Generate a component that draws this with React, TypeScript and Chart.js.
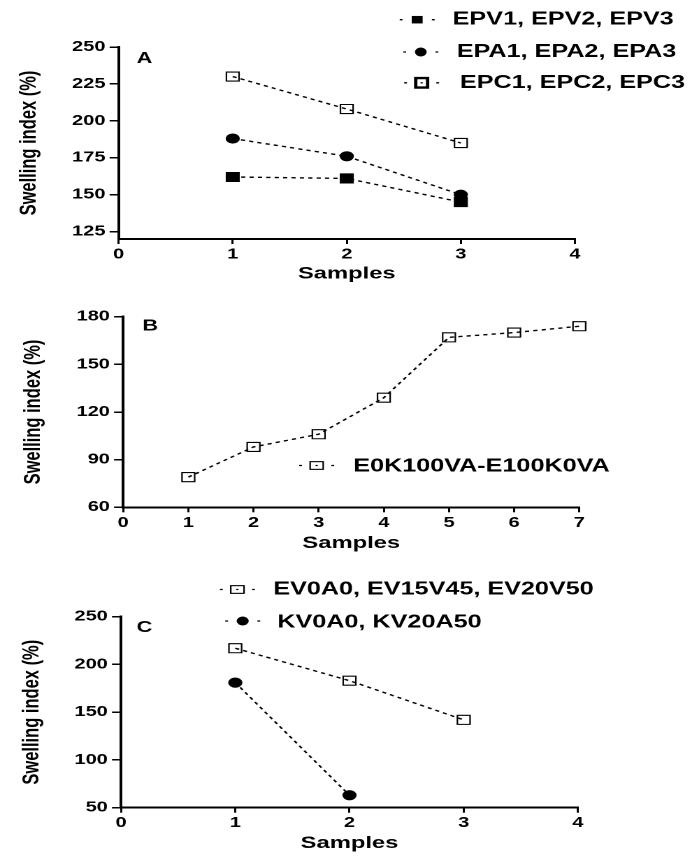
import React, { useEffect, useRef } from 'react';
import { Chart, registerables } from 'chart.js';

Chart.register(...registerables);

const FONT = '"Liberation Sans", Arial, Helvetica, sans-serif';
const VIRTUAL_W = 500;
const STRETCH = 699 / VIRTUAL_W;

// ---------- Data: panel A ----------
const A_SAMPLES = [1, 2, 3];
const A_EPV = [162, 161, 145];
const A_EPA = [188, 176, 150];
const A_EPC = [230, 208, 185];
const A_X_TICKS = [0, 1, 2, 3, 4];
const A_Y_TICKS = [125, 150, 175, 200, 225, 250];
const A_LABELS = ['EPV1, EPV2, EPV3', 'EPA1, EPA2, EPA3', 'EPC1, EPC2, EPC3'];

// ---------- Data: panel B ----------
const B_SAMPLES = [1, 2, 3, 4, 5, 6, 7];
const B_VALUES = [79, 98, 106, 129, 167, 170, 174];
const B_X_TICKS = [0, 1, 2, 3, 4, 5, 6, 7];
const B_Y_TICKS = [60, 90, 120, 150, 180];
const B_LABELS = ['E0K100VA-E100K0VA'];

// ---------- Data: panel C ----------
const C_SAMPLES_EV = [1, 2, 3];
const C_EV = [217, 183, 142];
const C_SAMPLES_KV = [1, 2];
const C_KV = [181, 63];
const C_X_TICKS = [0, 1, 2, 3, 4];
const C_Y_TICKS = [50, 100, 150, 200, 250];
const C_LABELS = ['EV0A0, EV15V45, EV20V50', 'KV0A0, KV20A50'];

const X_TITLE = 'Samples';
const Y_TITLE = 'Swelling index (%)';
const PANEL_LETTERS = ['A', 'B', 'C'];

type Marker = 'square' | 'circle' | 'open' | 'openThick';

interface SeriesSpec { xs: number[]; ys: number[]; marker: Marker; }
interface LegendSpec { label: string; marker: Marker; mx: number; my: number; w: number; h: number; tx: number; ty: number; }
interface PanelSpec {
  top: number; height: number; letter: string; letterX: number; letterY: number;
  yWidth: number; xHeight: number; padTop: number; padRight: number;
  xMin: number; xMax: number; yMin: number; yMax: number;
  xTicks: number[]; yTicks: number[];
  yTitlePad: number; xTitlePad: number;
  series: SeriesSpec[]; legend: LegendSpec[];
}

const PANELS: PanelSpec[] = [
  {
    top: 0, height: 290, letter: PANEL_LETTERS[0], letterX: 97.8, letterY: 58.5,
    yWidth: 84.9, xHeight: 51, padTop: 47, padRight: 88.8,
    xMin: 0, xMax: 4, yMin: 120, yMax: 250, xTicks: A_X_TICKS, yTicks: A_Y_TICKS,
    yTitlePad: 11.1, xTitlePad: 5.8,
    series: [
      { xs: A_SAMPLES, ys: A_EPV, marker: 'square' },
      { xs: A_SAMPLES, ys: A_EPA, marker: 'circle' },
      { xs: A_SAMPLES, ys: A_EPC, marker: 'open' },
    ],
    legend: [
      { label: A_LABELS[0], marker: 'square', mx: 298.4, my: 19.7, w: 7.8, h: 7.5, tx: 323.8, ty: 19.5 },
      { label: A_LABELS[1], marker: 'circle', mx: 301, my: 52, w: 8.4, h: 9, tx: 326.7, ty: 52 },
      { label: A_LABELS[2], marker: 'openThick', mx: 301.6, my: 82.8, w: 8.5, h: 9.5, tx: 329, ty: 82.8 },
    ],
  },
  {
    top: 290, height: 280, letter: PANEL_LETTERS[1], letterX: 101.9, letterY: 36,
    yWidth: 88.1, xHeight: 62.7, padTop: 26.7, padRight: 85.6,
    xMin: 0, xMax: 7, yMin: 60, yMax: 180, xTicks: B_X_TICKS, yTicks: B_Y_TICKS,
    yTitlePad: 14.1, xTitlePad: 16.3,
    series: [{ xs: B_SAMPLES, ys: B_VALUES, marker: 'open' }],
    legend: [
      { label: B_LABELS[0], marker: 'open', mx: 226.5, my: 175.5, w: 9.3, h: 7.7, tx: 252.7, ty: 176.7 },
    ],
  },
  {
    top: 570, height: 294, letter: PANEL_LETTERS[2], letterX: 97.8, letterY: 57.5,
    yWidth: 86.6, xHeight: 56.3, padTop: 46.7, padRight: 86.6,
    xMin: 0, xMax: 4, yMin: 50, yMax: 250, xTicks: C_X_TICKS, yTicks: C_Y_TICKS,
    yTitlePad: 13.3, xTitlePad: 10.5,
    series: [
      { xs: C_SAMPLES_EV, ys: C_EV, marker: 'open' },
      { xs: C_SAMPLES_KV, ys: C_KV, marker: 'circle' },
    ],
    legend: [
      { label: C_LABELS[0], marker: 'open', mx: 169.8, my: 19.5, w: 9.5, h: 7.7, tx: 195.5, ty: 19.5 },
      { label: C_LABELS[1], marker: 'circle', mx: 173.6, my: 51, w: 8.6, h: 9, tx: 198.4, ty: 52.3 },
    ],
  },
];

function drawMarker(ctx: CanvasRenderingContext2D, kind: Marker, x: number, y: number, w: number, h: number) {
  ctx.fillStyle = '#000';
  ctx.strokeStyle = '#000';
  if (kind === 'circle') {
    ctx.beginPath();
    ctx.ellipse(x, y, w / 2, h / 2, 0, 0, Math.PI * 2);
    ctx.fill();
  } else if (kind === 'square') {
    ctx.fillRect(x - w / 2, y - h / 2, w, h);
  } else {
    ctx.lineWidth = kind === 'openThick' ? 2.4 : 1.1;
    ctx.fillStyle = '#fff';
    ctx.fillRect(x - w / 2, y - h / 2, w, h);
    ctx.strokeRect(x - w / 2, y - h / 2, w, h);
    ctx.fillStyle = '#000';
    ctx.fillRect(x - 0.8, y - 0.6, 1.6, 1.2);
  }
}

function overlayPlugin(spec: PanelSpec) {
  return {
    id: 'overlay',
    afterDraw(chart: any) {
      const ctx: CanvasRenderingContext2D = chart.ctx;
      ctx.save();
      ctx.fillStyle = '#000';
      ctx.textAlign = 'left';
      ctx.textBaseline = 'middle';
      ctx.font = `bold 15.5px ${FONT}`;
      ctx.fillText(spec.letter, spec.letterX, spec.letterY);
      spec.legend.forEach((item) => {
        ctx.strokeStyle = '#000';
        ctx.lineWidth = 1.3;
        ctx.setLineDash([]);
        ctx.beginPath();
        ctx.moveTo(item.mx - 12.5, item.my);
        ctx.lineTo(item.mx - 10.5, item.my);
        ctx.moveTo(item.mx + 10.5, item.my);
        ctx.lineTo(item.mx + 12.5, item.my);
        ctx.stroke();
        drawMarker(ctx, item.marker, item.mx, item.my, item.w, item.h);
        ctx.fillStyle = '#000';
        ctx.font = `bold 18px ${FONT}`;
        ctx.textBaseline = 'middle';
        ctx.fillText(item.label, item.tx, item.ty);
      });
      ctx.restore();
    },
  };
}

function makeDataset(s: SeriesSpec) {
  const filled = s.marker === 'square' || s.marker === 'circle';
  const isCircle = s.marker === 'circle';
  return {
    data: s.xs.map((x, i) => ({ x, y: s.ys[i] })),
    showLine: true,
    borderColor: '#000',
    borderWidth: 1.4,
    borderDash: [3, 3],
    fill: false,
    tension: 0,
    clip: false,
    pointStyle: isCircle ? 'circle' : 'rect',
    pointRadius: isCircle ? 4.6 : 6.4,
    pointBackgroundColor: filled ? '#000' : 'rgba(0,0,0,0)',
    pointBorderColor: '#000',
    pointBorderWidth: filled ? 1 : 1.1,
  };
}

function makeConfig(spec: PanelSpec): any {
  const tickFont = { size: 14.3, weight: 'bold', family: FONT };
  return {
    type: 'scatter',
    data: { datasets: spec.series.map(makeDataset) },
    options: {
      animation: false,
      responsive: true,
      maintainAspectRatio: false,
      devicePixelRatio: 2,
      events: [],
      layout: { padding: { top: spec.padTop, right: spec.padRight, left: 0, bottom: 0 } },
      plugins: { legend: { display: false }, tooltip: { enabled: false } },
      scales: {
        x: {
          type: 'linear',
          min: spec.xMin,
          max: spec.xMax,
          afterBuildTicks: (s: any) => { s.ticks = spec.xTicks.map((v) => ({ value: v })); },
          afterFit: (s: any) => { s.height = spec.xHeight; },
          grid: { display: true, drawOnChartArea: false, drawTicks: true, tickLength: 5, color: '#000', lineWidth: 1.5 },
          border: { display: true, color: '#000', width: 2 },
          ticks: { color: '#000', font: tickFont, padding: 2, maxRotation: 0, autoSkip: false },
          title: {
            display: true, text: X_TITLE, color: '#000',
            font: { size: 17, weight: 'bold', family: FONT },
            padding: { top: 0, bottom: spec.xTitlePad },
          },
        },
        y: {
          type: 'linear',
          min: spec.yMin,
          max: spec.yMax,
          afterBuildTicks: (s: any) => { s.ticks = spec.yTicks.map((v) => ({ value: v })); },
          afterFit: (s: any) => { s.width = spec.yWidth; },
          grid: { display: true, drawOnChartArea: false, drawTicks: true, tickLength: 6.5, color: '#000', lineWidth: 1.5 },
          border: { display: true, color: '#000', width: 2 },
          ticks: { color: '#000', font: tickFont, padding: 3, autoSkip: false },
          title: {
            display: true, text: Y_TITLE, color: '#000',
            font: { size: 16.5, weight: 'bold', family: FONT },
            padding: { top: spec.yTitlePad, bottom: 0 },
          },
        },
      },
    },
    plugins: [overlayPlugin(spec)],
  };
}

function Panel({ spec }: { spec: PanelSpec }) {
  const ref = useRef<HTMLCanvasElement>(null);
  useEffect(() => {
    if (!ref.current) return;
    const chart = new Chart(ref.current, makeConfig(spec));
    return () => chart.destroy();
  }, [spec]);
  return (
    <div
      style={{
        position: 'absolute',
        left: 0,
        top: spec.top,
        width: VIRTUAL_W,
        height: spec.height,
        transform: `scaleX(${STRETCH})`,
        transformOrigin: '0 0',
      }}
    >
      <canvas ref={ref} />
    </div>
  );
}

export default function App() {
  return (
    <div
      style={{
        position: 'absolute',
        left: 0,
        top: 0,
        width: 699,
        height: 864,
        background: '#fff',
        overflow: 'hidden',
      }}
    >
      {PANELS.map((p) => (
        <Panel key={p.letter} spec={p} />
      ))}
    </div>
  );
}
